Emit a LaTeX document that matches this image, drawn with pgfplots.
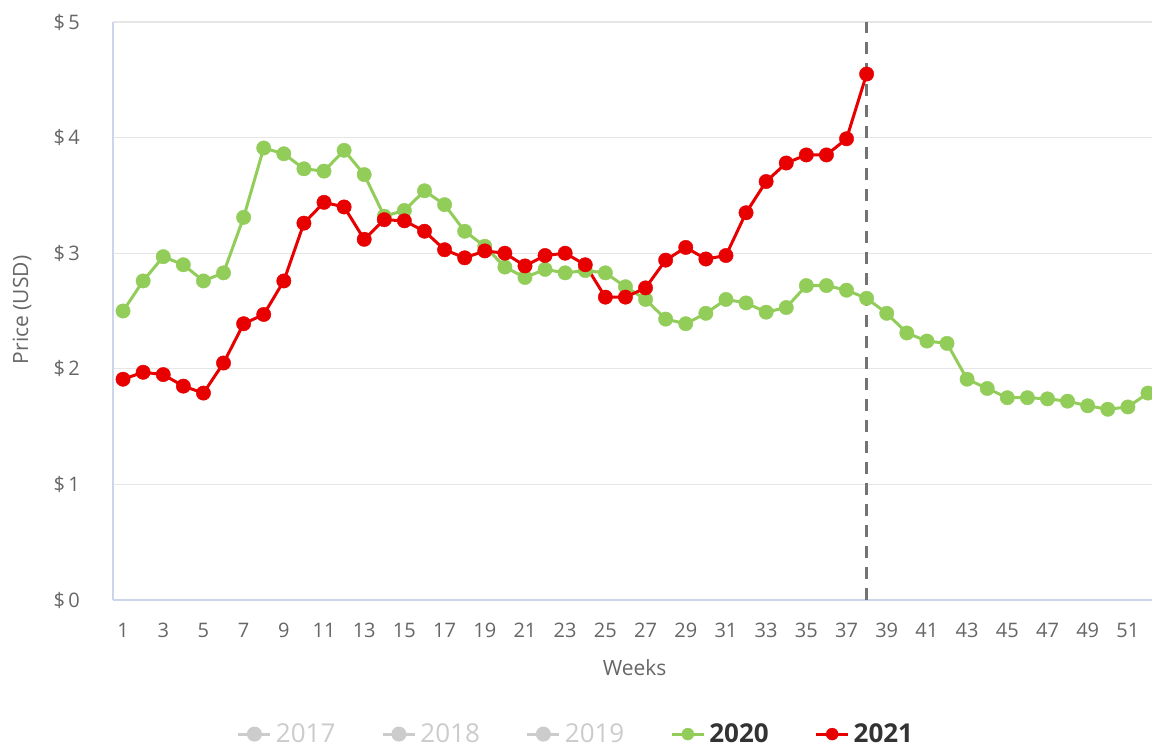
\documentclass[border=0pt]{standalone}
\usepackage{pgfplots}
\pgfplotsset{compat=1.18}
\usepackage{fontspec}
\setmainfont{Open Sans}
\definecolor{gA}{HTML}{92CD5A}
\definecolor{rA}{HTML}{E80000}
\definecolor{txt}{HTML}{666666}
\definecolor{gridc}{HTML}{E6E6E6}
\definecolor{axc}{HTML}{CCD6EB}
\definecolor{hid}{HTML}{CCCCCC}
\definecolor{legt}{HTML}{333333}
\begin{document}
\begin{tikzpicture}
\path[use as bounding box] (-56.5pt,-75.5pt) rectangle (519.5pt,300pt);
\begin{axis}[
  scale only axis,
  width=519.5pt, height=289pt,
  xmin=0.5, xmax=52.2, ymin=0, ymax=5,
  axis lines*=left,
  axis line style={axc, line width=0.6pt},
  separate axis lines,
  x axis line style={-}, y axis line style={-},
  ytick={0,1,2,3,4,5},
  yticklabels={\$\,0,\$\,1,\$\,2,\$\,3,\$\,4,\$\,5},
  xtick={1,3,...,51},
  /pgf/number format/assume math mode=true,
  major tick length=0pt,
  ymajorgrids, grid style={gridc, line width=0.6pt},
  tick label style={font=\fontsize{10}{12}\selectfont, text=txt},
  yticklabel style={xshift=-13pt},
  xticklabel style={yshift=-8pt},
  xlabel={Weeks}, ylabel={Price (USD)},
  label style={font=\fontsize{10.5}{12}\selectfont, text=txt},
  xlabel style={at={(axis description cs:0.502,-0.1176)}, anchor=center},
  ylabel style={at={(axis description cs:-0.0876,0.502)}, anchor=center, rotate=0},
  clip=true,
  legend columns=5,
  legend style={draw=none, at={(axis description cs:0.4466,-0.232)}, anchor=center,
    font=\fontsize{13}{15}\selectfont, /tikz/every even column/.append style={column sep=21pt}},
  legend image code/.code={\draw[#1,mark repeat=2,mark phase=2,mark size=3pt] plot coordinates {(0pt,0pt)(8pt,0pt)(16pt,0pt)};},
]
\addlegendimage{hid, line width=1.5pt, mark=*, mark options={solid}}
\addlegendentry{\textcolor{hid}{2017}}
\addlegendimage{hid, line width=1.5pt, mark=*, mark options={solid}}
\addlegendentry{\textcolor{hid}{2018}}
\addlegendimage{hid, line width=1.5pt, mark=*, mark options={solid}}
\addlegendentry{\textcolor{hid}{2019}}
\addplot[gA, line width=1.5pt, mark=*, mark size=3.6pt, mark options={solid, fill=gA, draw=gA, line width=0.2pt}] coordinates {
(1,2.50)(2,2.76)(3,2.97)(4,2.90)(5,2.76)(6,2.83)(7,3.31)(8,3.91)(9,3.86)(10,3.73)
(11,3.71)(12,3.89)(13,3.68)(14,3.32)(15,3.37)(16,3.54)(17,3.42)(18,3.19)(19,3.06)(20,2.88)
(21,2.79)(22,2.86)(23,2.83)(24,2.85)(25,2.83)(26,2.71)(27,2.60)(28,2.43)(29,2.39)(30,2.48)
(31,2.60)(32,2.57)(33,2.49)(34,2.53)(35,2.72)(36,2.72)(37,2.68)(38,2.61)(39,2.48)(40,2.31)
(41,2.24)(42,2.22)(43,1.91)(44,1.83)(45,1.75)(46,1.75)(47,1.74)(48,1.72)(49,1.68)(50,1.65)
(51,1.67)(52,1.79)};
\addlegendentry{\textcolor{legt}{\bfseries 2020}}
\addplot[rA, line width=1.5pt, mark=*, mark size=3.6pt, mark options={solid, fill=rA, draw=rA, line width=0.2pt}] coordinates {
(1,1.91)(2,1.97)(3,1.95)(4,1.85)(5,1.79)(6,2.05)(7,2.39)(8,2.47)(9,2.76)(10,3.26)
(11,3.44)(12,3.40)(13,3.12)(14,3.29)(15,3.28)(16,3.19)(17,3.03)(18,2.96)(19,3.02)(20,3.00)
(21,2.89)(22,2.98)(23,3.00)(24,2.90)(25,2.62)(26,2.62)(27,2.70)(28,2.94)(29,3.05)(30,2.95)
(31,2.98)(32,3.35)(33,3.62)(34,3.78)(35,3.85)(36,3.85)(37,3.99)(38,4.55)};
\addlegendentry{\textcolor{legt}{\bfseries 2021}}
\addplot[forget plot, color=black!55, line width=1.5pt, dash pattern=on 6pt off 4.5pt] coordinates {(38,0)(38,5)};
\end{axis}
\end{tikzpicture}
\end{document}
